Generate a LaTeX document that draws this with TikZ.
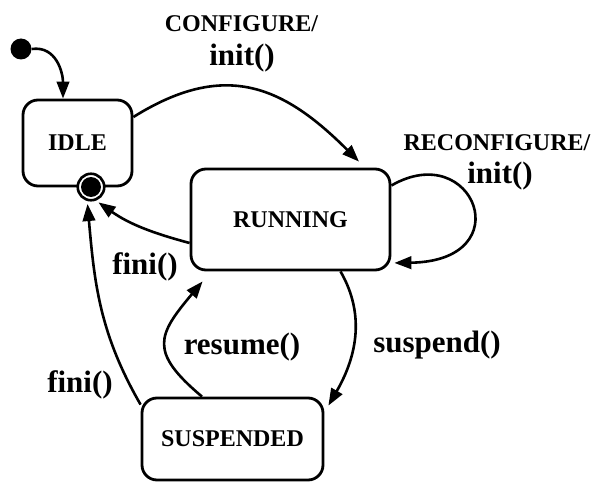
\documentclass[tikz,border=0pt]{standalone}
\usepackage{fontspec}
\setmainfont{Liberation Serif}
\usetikzlibrary{arrows.meta}

\begin{document}
\begin{tikzpicture}[
    x=1pt, y=1pt,
    >={Triangle[length=17pt, width=12.5pt]},
    state/.style={draw, rounded corners=15pt, line width=2.8pt, inner sep=0pt, font=\fontsize{24}{26}\selectfont\bfseries},
    start/.style={circle, fill, inner sep=0pt, minimum size=21pt},
    stop/.style={circle, draw, line width=2.6pt, fill=white, inner sep=0pt, minimum size=26.5pt},
    trans/.style={->, line width=2.6pt},
    evt/.style={inner sep=0pt, font=\fontsize{24}{26}\selectfont\bfseries},
    act/.style={inner sep=0pt, font=\fontsize{31}{33}\selectfont\bfseries}
]
\useasboundingbox (0,0) rectangle (595,483);

% states
\node[state, minimum width=109pt, minimum height=86pt] (idle) at (77.5,340) {IDLE};
\node[state, minimum width=199pt, minimum height=101pt] (running) at (290.5,263.5) {RUNNING};
\node[state, minimum width=181pt, minimum height=82pt] (suspended) at (232.5,44) {SUSPENDED};

\node[start] (init) at (21,434) {};
\node[stop] (fin) at (91,296) {};
\fill (fin) circle (10);

% transitions
\draw[trans] (init.east) to[out=8, in=90, looseness=1.1] ([xshift=-14.5pt]idle.north);
\draw[trans] ([yshift=26pt]idle.east) to[out=32, in=135, looseness=1.2] ([xshift=68.5pt, yshift=6pt]running.north);
\draw[trans, shorten >=3pt] ([yshift=34pt]running.east) .. controls +(30:95) and +(130,2) .. ([yshift=-43.5pt]running.east);
\draw[trans, shorten >=3pt] ([yshift=-23.5pt]running.west) to[out=165, in=-35] (fin.-70);
\draw[trans, shorten >=3pt] ([yshift=-8pt]suspended.north west) to[out=120, in=-85] (fin.-105);
\draw[trans] ([xshift=50pt]running.south) to[out=-60, in=60] ([xshift=4pt, yshift=-9pt]suspended.north east);
\draw[trans] ([xshift=-30.5pt]suspended.north) to[out=140, in=-130, looseness=1.55] ([xshift=13pt, yshift=-10pt]running.south west);

% labels
\node[evt] (cfg) at (241.5,459) {CONFIGURE/};
\node[act] (cfginit) at (242,425) {init()};
\node[evt] (recfg) at (497,340) {RECONFIGURE/};
\node[act] (recfginit) at (500,306.5) {init()};
\node[act] (finirun) at (145,216) {fini()};
\node[act] (finisusp) at (80,98) {fini()};
\node[act] (resume) at (242,136) {resume()};
\node[act] (suspend) at (437,138) {suspend()};

\end{tikzpicture}
\end{document}
